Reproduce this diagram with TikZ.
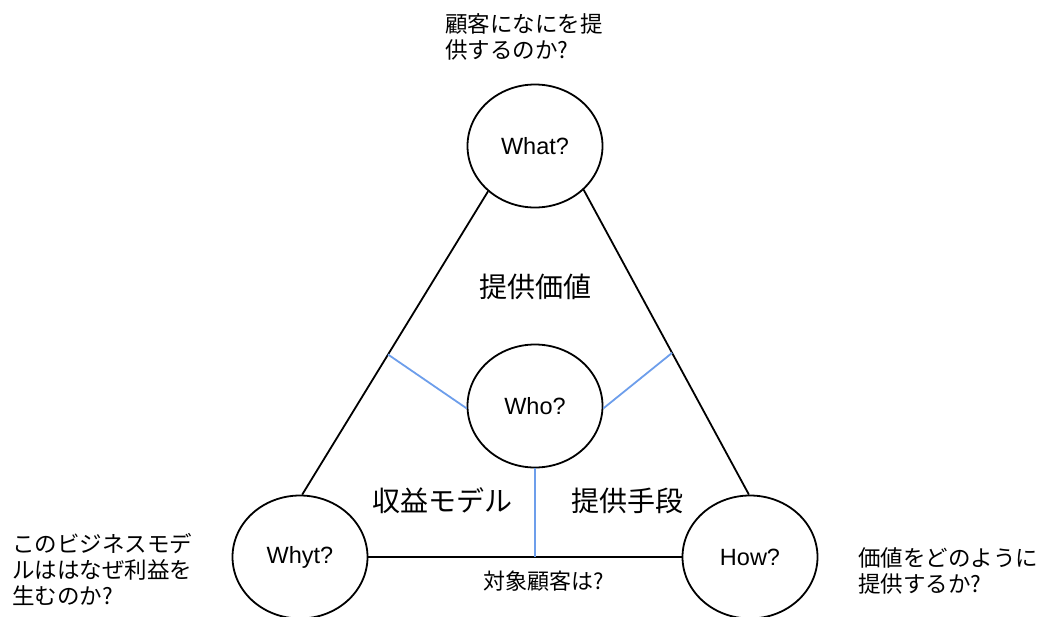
\documentclass[tikz,border=0pt]{standalone}
\usepackage{fontspec}
\setmainfont{Liberation Sans}
\newfontfamily\jp{Noto Sans CJK JP}
\usetikzlibrary{shapes.geometric}
\definecolor{lineblue}{RGB}{109,158,235}
\begin{document}
\begin{tikzpicture}[x=1pt,y=-1pt,
  circ/.style={ellipse,draw=black,line width=1.8pt,minimum width=135,minimum height=123,inner sep=0pt,font=\fontsize{23.5}{28}\selectfont},
  edge/.style={draw=black,line width=1.8pt},
  bedge/.style={draw=lineblue,line width=1.8pt},
  big/.style={inner sep=0pt,font=\jp\fontsize{28}{32}\selectfont},
  note/.style={inner sep=0pt,align=left,font=\jp\fontsize{22.5}{26}\selectfont},
  small/.style={inner sep=0pt,font=\jp\fontsize{22}{26}\selectfont}]
\useasboundingbox (0,0) rectangle (1040,616);
\node[circ] (what) at (535,146) {What?};
\node[circ] (who) at (535,406) {Who?};
\node[circ] (whyt) at (300,557) {Whyt?};
\node[circ] (how) at (750,557) {How?};
\draw[edge] (what.224) -- (whyt.88) coordinate[pos=0.538] (lp);
\draw[edge] (what.318) -- (how.91) coordinate[pos=0.535] (rp);
\draw[edge] (whyt.east) -- (how.west);
\draw[bedge] (lp) -- (who.182);
\draw[bedge] (rp) -- (who.358);
\draw[bedge] (who.south) -- (who.south |- whyt.east);
\node[big] (val) at (535,287) {提供価値};
\node[big] (rev) at (442,501) {収益モデル};
\node[big] (means) at (627,501) {提供手段};
\node[small] (target) at (544,581) {対象顧客は?};
\node[note,anchor=north west] (qwhat) at (445,13) {顧客になにを提\\供するのか?};
\node[note,anchor=north west] (qwhy) at (12,533) {このビジネスモデ\\ルははなぜ利益を\\生むのか?};
\node[note,anchor=north west] (qhow) at (858,547) {価値をどのように\\提供するか?};
\end{tikzpicture}
\end{document}
